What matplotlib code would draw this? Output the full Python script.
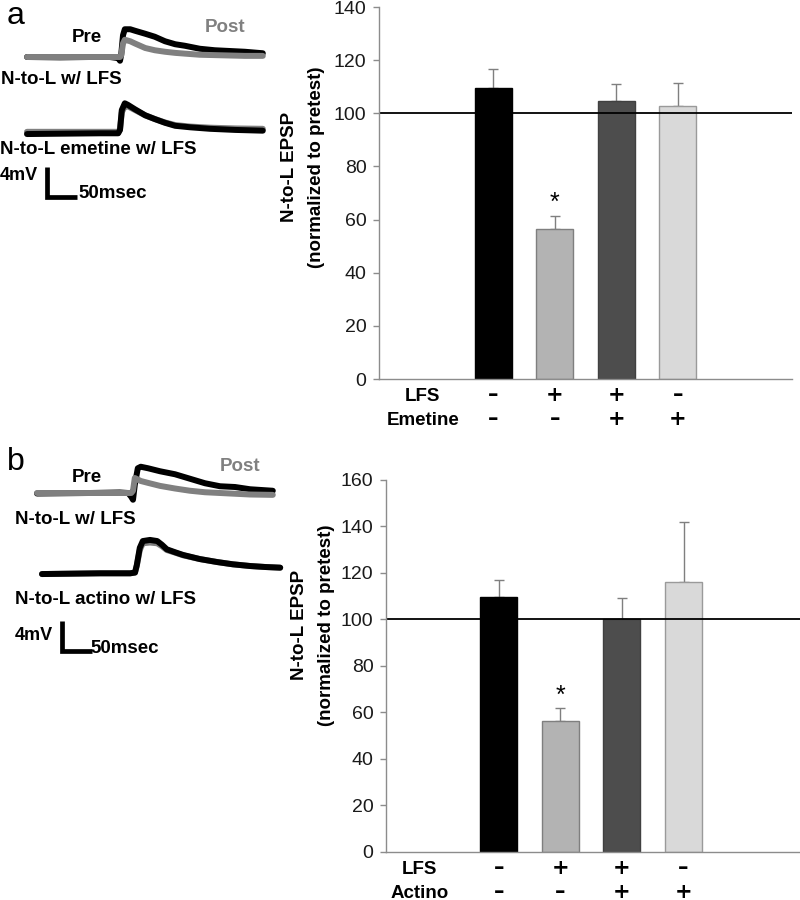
import matplotlib
matplotlib.use("Agg")
import matplotlib.pyplot as plt

# ---------------- data ----------------
cond_a_lfs = ["–", "+", "+", "–"]
cond_a_drug = ["–", "–", "+", "+"]
means_a = [109.6, 56.3, 104.5, 102.9]
errs_a = [7.1, 5.2, 6.4, 8.5]

cond_b_lfs = ["–", "+", "+", "–"]
cond_b_drug = ["–", "–", "+", "+"]
means_b = [109.8, 56.3, 100.0, 116.2]
errs_b = [7.0, 5.4, 9.2, 25.9]

yticks_a = [0, 20, 40, 60, 80, 100, 120, 140]
yticks_b = [0, 20, 40, 60, 80, 100, 120, 140, 160]
row_labels_a = ["LFS", "Emetine"]
row_labels_b = ["LFS", "Actino"]

# traces: time (ms) and voltage (mV)
a1_t = [0, 55, 105, 138, 152, 155, 157, 160, 163, 172, 180, 197, 213, 230, 247, 263, 288, 313, 338, 363, 393]
a1_pre = [0, -0.05, 0, 0, -0.15, -0.5, 0.3, 2.9, 3.7, 3.7, 3.5, 3.1, 2.7, 2.1, 1.7, 1.5, 1.1, 0.9, 0.8, 0.7, 0.5]
a1_post = [0, 0, 0, 0, 0, 0, 0.2, 1.8, 2.3, 2.1, 1.8, 1.2, 0.9, 0.7, 0.55, 0.45, 0.3, 0.25, 0.2, 0.15, 0.15]

a2_t = [0, 122, 152, 155, 158, 163, 168, 180, 197, 213, 230, 247, 272, 305, 347, 393]
a2_pre = [-0.1, 0, 0, 0.45, 3.1, 4.0, 3.8, 3.2, 2.4, 1.9, 1.4, 1.0, 0.8, 0.6, 0.45, 0.35]
a2_post = [0.2, 0.2, 0.2, 0.5, 2.8, 3.6, 3.6, 3.1, 2.4, 1.9, 1.45, 1.1, 0.9, 0.75, 0.65, 0.6]

b1_t = [0, 88, 138, 152, 157, 160, 163, 168, 173, 185, 205, 230, 255, 280, 305, 330, 355, 393]
b1_pre = [-0.07, 0, 0.07, 0, -0.5, -0.9, 1.1, 3.3, 3.5, 3.3, 2.9, 2.5, 1.9, 1.3, 0.9, 0.8, 0.5, 0.3]
b1_post = [0, 0, 0, 0, 0, 0.3, 2.0, 1.8, 1.6, 1.35, 0.95, 0.6, 0.3, 0.1, 0, -0.1, -0.2, -0.25]

b2_t = [0, 97, 147, 155, 158, 163, 168, 180, 192, 200, 208, 222, 235, 263, 292, 318, 347, 372, 397]
b2_pre = [-0.1, 0, 0, 0.1, 1.1, 3.4, 4.3, 4.45, 4.3, 3.8, 3.2, 2.8, 2.45, 1.9, 1.5, 1.2, 0.97, 0.84, 0.75]
b2_post = [-0.1, 0, 0, 0.1, 1.0, 3.1, 4.0, 4.1, 4.0, 3.6, 3.1, 2.75, 2.4, 1.9, 1.5, 1.2, 0.97, 0.84, 0.75]

# ---------------- style ----------------
plt.rcParams['font.family'] = ['Liberation Sans', 'DejaVu Sans']
W, H = 800, 900
PX_MS = 0.6   # pixels per ms
PX_MV = 7.5   # pixels per mV
bar_colors = ["#000000", "#b3b3b3", "#4d4d4d", "#d9d9d9"]
edge_colors = ["#000000", "#7f7f7f", "#404040", "#9a9a9a"]

fig = plt.figure(figsize=(8, 9), dpi=100)


def P(x, y):
    return x / W, 1 - y / H


# ---------------- trace axes ----------------
axt = fig.add_axes([0, 0, 285 / W, 1])
axt.set_xlim(0, 285 / PX_MS)
axt.set_ylim(-H / PX_MV, 0)
axt.axis("off")


def draw_trace(t, pre, post, x0, y0, gray_top):
    xs = [x0 / PX_MS + v for v in t]
    yp = [-y0 / PX_MV + v for v in pre]
    yq = [-y0 / PX_MV + v for v in post]
    zb, zg = (2, 3) if gray_top else (3, 2)
    axt.plot(xs, yp, color="black", lw=4.3, solid_capstyle="round",
             solid_joinstyle="round", zorder=zb)
    axt.plot(xs, yq, color="#808080", lw=4.3, solid_capstyle="round",
             solid_joinstyle="round", zorder=zg)


draw_trace(a1_t, a1_pre, a1_post, 27, 57, True)
draw_trace(a2_t, a2_pre, a2_post, 27, 133.3, False)
draw_trace(b1_t, b1_pre, b1_post, 37, 493, True)
draw_trace(b2_t, b2_pre, b2_post, 42, 573.3, False)


def scale_bar(xc, yc):
    x = xc / PX_MS
    y = -yc / PX_MV
    axt.plot([x, x, x + 50], [y + 4, y, y], color="black", lw=3.4,
             solid_joinstyle="miter", solid_capstyle="butt")


scale_bar(46.7, 197)
scale_bar(61.7, 651)

bold = dict(fontweight="bold")
fig.text(*P(7, 24), "a", fontsize=23, ha="left", va="baseline")
fig.text(*P(7, 470), "b", fontsize=23, ha="left", va="baseline")

fig.text(*P(87, 38), "Pre", fontsize=13.5, ha="center", va="center", **bold)
fig.text(*P(225, 27), "Post", fontsize=13.5, ha="center", va="center", color="#808080", **bold)
fig.text(*P(1, 80), "N-to-L w/ LFS", fontsize=13.5, ha="left", va="center", **bold)
fig.text(*P(0, 150), "N-to-L emetine w/ LFS", fontsize=13.5, ha="left", va="center", **bold)
fig.text(*P(0, 175), "4mV", fontsize=13, ha="left", va="center", **bold)
fig.text(*P(78, 194), "50msec", fontsize=13.5, ha="left", va="center", **bold)

fig.text(*P(87, 477.5), "Pre", fontsize=13.5, ha="center", va="center", **bold)
fig.text(*P(240, 466.5), "Post", fontsize=13.5, ha="center", va="center", color="#808080", **bold)
fig.text(*P(15, 519.5), "N-to-L w/ LFS", fontsize=13.5, ha="left", va="center", **bold)
fig.text(*P(15, 600), "N-to-L actino w/ LFS", fontsize=13.5, ha="left", va="center", **bold)
fig.text(*P(15, 635), "4mV", fontsize=13, ha="left", va="center", **bold)
fig.text(*P(90, 648.5), "50msec", fontsize=13.5, ha="left", va="center", **bold)


# ---------------- bar charts ----------------
def bar_panel(rect, means, errs, yticks, ymax, xlim, lfs, drug, rows, row_x, ylab_xy):
    ax = fig.add_axes(rect)
    x = list(range(len(means)))
    ax.bar(x, means, width=0.6, color=bar_colors, edgecolor=edge_colors,
           linewidth=1.0, zorder=2)
    ax.errorbar(x, means, yerr=[[0] * len(errs), errs], fmt="none",
                ecolor="#7f7f7f", elinewidth=1.0, capsize=3.6, capthick=1.0, zorder=1)
    ax.axhline(100, color="black", lw=1.3, zorder=4)
    ax.set_xlim(*xlim)
    ax.set_ylim(0, ymax)
    ax.set_yticks(yticks)
    ax.set_xticks([])
    for s in ("top", "right"):
        ax.spines[s].set_visible(False)
    for s in ("left", "bottom"):
        ax.spines[s].set_color("#8c8c8c")
        ax.spines[s].set_linewidth(1.0)
        ax.spines[s].set_zorder(5)
    ax.tick_params(axis="y", direction="out", length=4, width=1.0, color="#8c8c8c",
                   labelsize=14, labelcolor="#1a1a1a", pad=5)
    # asterisk above LFS-only bar
    ax.annotate("*", xy=(1, means[1] + errs[1]), xytext=(0, 4),
                textcoords="offset points", ha="center", va="baseline", fontsize=18)
    # condition table
    for i in x:
        for vals, off in ((lfs, 22), (drug, 46)):
            ax.annotate(vals[i], xy=(i, 0), xycoords=("data", "axes fraction"),
                        xytext=(0, -off * 0.72), textcoords="offset points",
                        ha="center", va="baseline", fontsize=15, fontweight="bold",
                        family=["DejaVu Sans"], annotation_clip=False)
    for lab, off in zip(rows, (22, 46)):
        ax.annotate(lab, xy=(row_x, 0), xycoords=("data", "axes fraction"),
                    xytext=(0, -off * 0.72), textcoords="offset points",
                    ha="center", va="baseline", fontsize=13.5, fontweight="bold",
                    annotation_clip=False)
    fig.text(*P(*ylab_xy), "N-to-L EPSP\n(normalized to pretest)", rotation=90,
             ha="center", va="center", multialignment="center", fontsize=13.5,
             fontweight="bold", linespacing=1.75)
    return ax


bar_panel([379 / W, 1 - 379 / H, 413 / W, 372 / H], means_a, errs_a, yticks_a, 140,
          (-1.86, 4.86), cond_a_lfs, cond_a_drug, row_labels_a, -1.15, (303, 167))
bar_panel([386 / W, 1 - 851.7 / H, 414 / W, 371.7 / H], means_b, errs_b, yticks_b, 160,
          (-1.83, 4.89), cond_b_lfs, cond_b_drug, row_labels_b, -1.28, (313, 625))

fig.savefig("out.png", dpi=100)
